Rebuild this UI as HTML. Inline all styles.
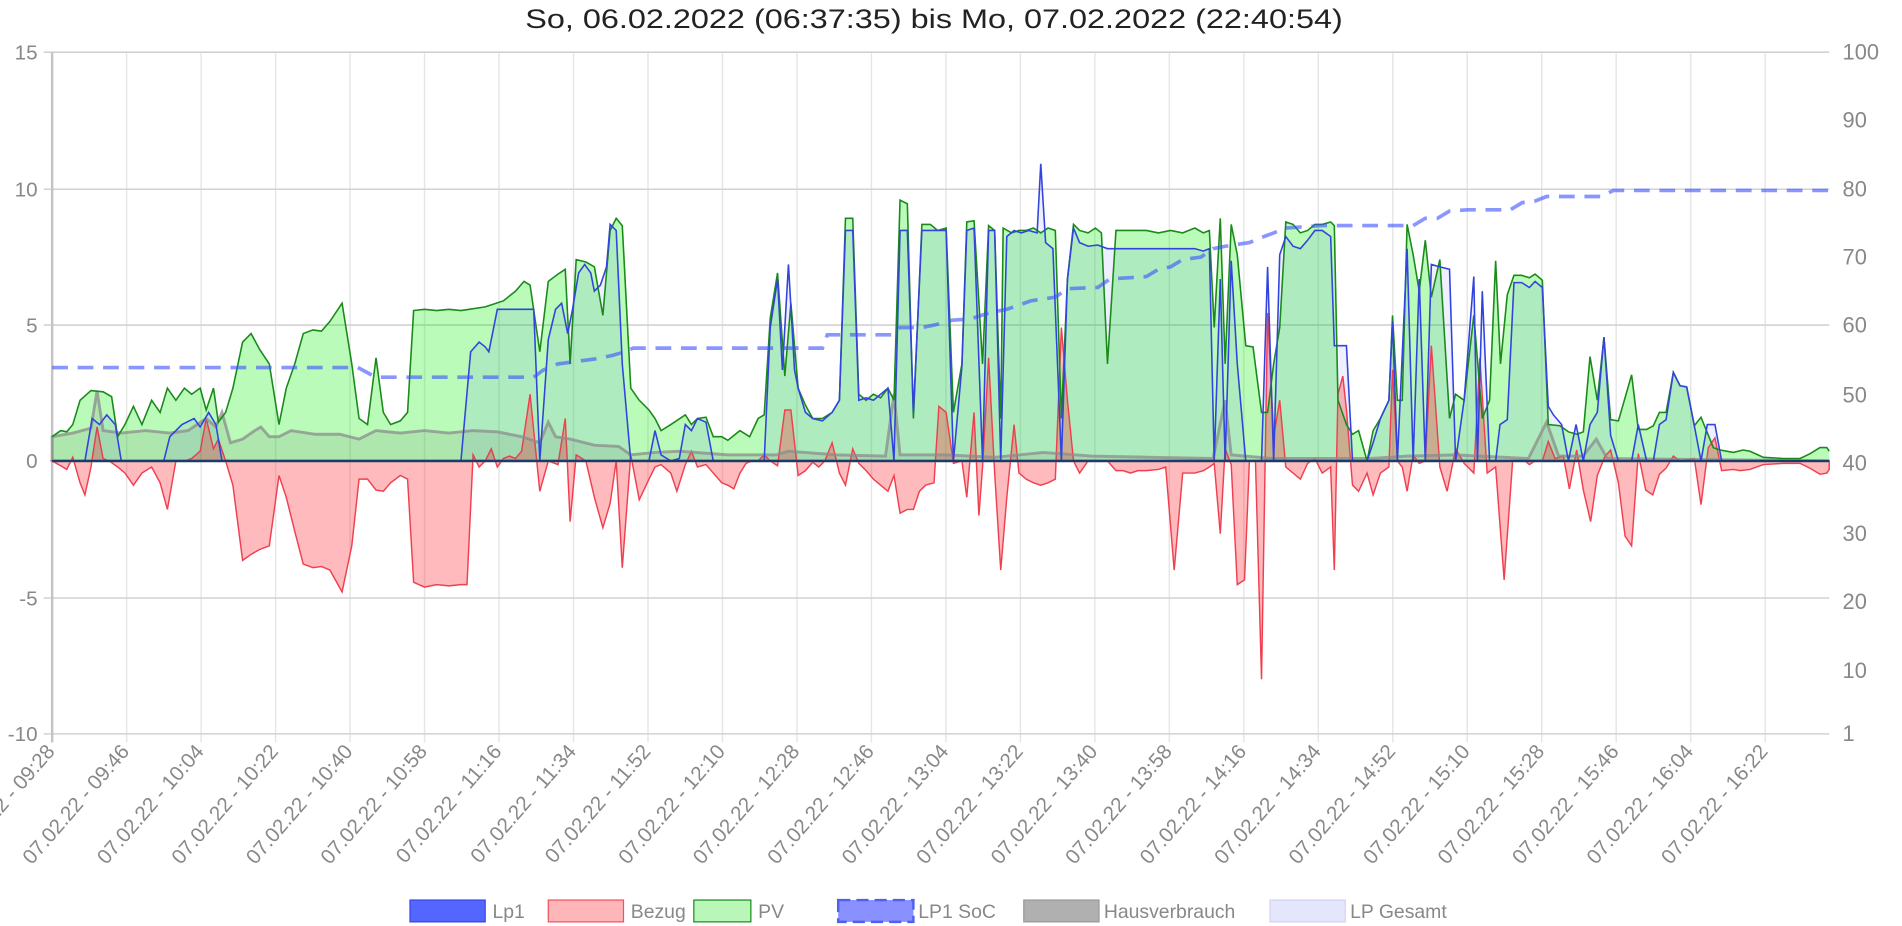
<!DOCTYPE html>
<html><head><meta charset="utf-8"><style>
html,body{margin:0;padding:0;background:#fff;}
svg{display:block;}
text{font-family:"Liberation Sans",Arial,sans-serif;}
</style></head><body>
<svg width="1902" height="926" viewBox="0 0 1568 763.4" preserveAspectRatio="none" xmlns="http://www.w3.org/2000/svg">
<text x="433" y="23" font-size="22" fill="#222" textLength="674" lengthAdjust="spacingAndGlyphs">So, 06.02.2022 (06:37:35) bis Mo, 07.02.2022 (22:40:54)</text>
<g stroke="#e6e6e6" stroke-width="1.2">
<line x1="104.4" y1="43" x2="104.4" y2="612"/><line x1="165.8" y1="43" x2="165.8" y2="612"/><line x1="227.2" y1="43" x2="227.2" y2="612"/><line x1="288.6" y1="43" x2="288.6" y2="612"/><line x1="350" y1="43" x2="350" y2="612"/><line x1="411.4" y1="43" x2="411.4" y2="612"/><line x1="472.8" y1="43" x2="472.8" y2="612"/><line x1="534.2" y1="43" x2="534.2" y2="612"/><line x1="595.6" y1="43" x2="595.6" y2="612"/><line x1="657" y1="43" x2="657" y2="612"/><line x1="718.4" y1="43" x2="718.4" y2="612"/><line x1="779.8" y1="43" x2="779.8" y2="612"/><line x1="841.2" y1="43" x2="841.2" y2="612"/><line x1="902.6" y1="43" x2="902.6" y2="612"/><line x1="964" y1="43" x2="964" y2="612"/><line x1="1025.4" y1="43" x2="1025.4" y2="612"/><line x1="1086.8" y1="43" x2="1086.8" y2="612"/><line x1="1148.2" y1="43" x2="1148.2" y2="612"/><line x1="1209.6" y1="43" x2="1209.6" y2="612"/><line x1="1271" y1="43" x2="1271" y2="612"/><line x1="1332.4" y1="43" x2="1332.4" y2="612"/><line x1="1393.8" y1="43" x2="1393.8" y2="612"/><line x1="1455.2" y1="43" x2="1455.2" y2="612"/>
</g>
<g stroke="#d2d2d2" stroke-width="1.3">
<line x1="36" y1="43" x2="1508" y2="43"/><line x1="36" y1="156" x2="1508" y2="156"/><line x1="36" y1="268" x2="1508" y2="268"/><line x1="36" y1="493" x2="1508" y2="493"/><line x1="36" y1="605" x2="1508" y2="605"/>
</g>
<line x1="43" y1="43" x2="43" y2="612" stroke="#c4c4c4" stroke-width="2"/>
<g font-size="17" fill="#888" text-anchor="end">
<text x="31" y="49">15</text><text x="31" y="162">10</text><text x="31" y="274">5</text><text x="31" y="386">0</text><text x="31" y="499">-5</text><text x="31" y="611">-10</text>
</g>
<g font-size="18" fill="#888">
<text x="1519" y="49">100</text><text x="1519" y="105">90</text><text x="1519" y="162">80</text><text x="1519" y="218">70</text><text x="1519" y="274">60</text><text x="1519" y="332">50</text><text x="1519" y="388">40</text><text x="1519" y="446">30</text><text x="1519" y="502">20</text><text x="1519" y="559">10</text><text x="1519" y="611">1</text>
</g>
<polygon fill="rgba(0,240,0,0.27)" stroke="none" points="43,380 43,360 50,355 55,356 60,350 66,330 75,322 85,323 92,327 97,360 103,350 110,335 117,350 125,330 132,340 138,320 145,330 152,320 158,325 165,320 170,338 176,320 180,348 186,340 192,320 200,282 207,275 214,288 222,300 230,350 236,320 243,300 250,275 258,272 265,273 272,265 282,250 290,300 296,345 303,350 310,295 316,340 322,350 330,347 336,340 341,256 350,255 360,256 370,255 380,256 400,253 415,248 425,240 432,232 437,235 445,290 452,232 460,226 466,222 470,300 475,214 483,216 490,220 497,260 503,190 508,180 513,186 520,320 527,330 535,338 540,345 545,355 553,350 565,342 570,350 575,345 582,344 588,360 595,360 600,363 610,355 618,360 625,345 630,342 635,262 641,225 647,310 652,250 658,320 664,334 670,345 678,345 686,340 692,330 697,180 703,180 708,325 714,330 720,325 726,328 732,320 737,330 742,165 748,168 753,345 760,185 767,185 773,190 780,188 786,340 793,300 797,183 803,182 810,300 815,186 820,190 825,345 827,188 834,192 840,190 846,190 852,188 858,192 864,188 870,190 875,345 880,230 885,185 890,190 897,192 903,188 908,192 913,300 920,190 926,190 932,190 938,190 945,190 955,192 965,190 975,192 985,188 992,192 997,190 1001,270 1006,180 1010,300 1015,185 1020,210 1027,285 1033,286 1040,340 1045,340 1050,300 1055,270 1060,183 1066,185 1072,192 1078,190 1084,185 1090,185 1097,183 1100,186 1103,330 1110,350 1115,358 1120,355 1127,380 1132,355 1138,345 1145,330 1148,260 1152,330 1156,330 1160,185 1165,210 1170,240 1175,198 1180,245 1187,214 1195,345 1200,325 1207,330 1215,260 1222,345 1228,330 1233,215 1237,300 1242.6,243 1248.1,227 1254.5,227 1260.8,229 1265.5,226 1271.5,231 1276.4,350 1286,351 1293,356 1300,358 1305.3,356 1310.8,294 1316.8,330 1322.3,278 1327.8,346 1334.2,347 1345.1,309 1350.6,354 1357.5,354 1363,351 1368,340 1373.5,340 1379.5,307 1385,318 1390.5,319 1396.8,351 1402.3,344 1412.5,369 1418,371 1429,373 1437,371 1442.7,372 1453.7,377 1470,378 1484,378 1492.2,374 1500.4,369 1506,369 1508,372 1508,380"/>
<polygon fill="rgba(40,60,255,0.08)" stroke="none" points="43,380 70,380 76,345 82,350 88,342 95,350 100,380 135,380 140,360 150,350 160,345 165,352 172,340 178,350 183,380 380,380 388,290 395,282 400,286 403,290 410,255 440,255 445,380 452,280 458,255 463,250 468,275 472,255 477,225 482,218 487,225 490,240 495,235 500,220 503,185 508,190 513,300 520,380 535,380 540,355 545,375 553,380 560,378 565,350 570,355 575,345 582,348 588,380 630,380 635,270 641,230 645,305 650,218 655,305 658,320 664,340 670,345 678,347 686,340 692,330 697,190 703,190 708,330 714,328 720,330 726,325 732,320 737,380 742,190 748,190 753,340 760,190 767,190 773,190 780,190 786,380 793,302 797,190 803,188 810,380 815,190 820,190 825,380 830,195 836,190 842,192 848,190 855,192 858,135 862,200 868,205 875,380 880,230 885,188 890,200 897,203 905,202 913,205 925,205 935,205 945,205 955,205 965,205 975,205 985,205 992,207 997,205 1001,380 1006,230 1010,380 1015,215 1020,300 1027,380 1040,380 1045,220 1050,380 1055,210 1060,195 1066,203 1072,205 1078,198 1084,190 1090,190 1097,195 1100,285 1110,285 1115,380 1127,380 1132,365 1138,345 1145,330 1148,265 1152,380 1160,205 1165,380 1170,230 1175,380 1180,218 1187,220 1195,222 1200,380 1207,330 1215,228 1218,380 1222,240 1228,380 1233,380 1236.6,350 1242.6,346 1248.1,233 1254.5,233 1260.8,237 1265.5,232 1271.5,237 1276.4,335 1280.6,342 1287.4,350 1293,380 1299.3,350 1305.3,380 1310.8,350 1316.8,340 1322.3,278 1327.8,359 1334.2,380 1345.1,380 1350.6,350 1357.5,380 1363,380 1368,350 1373.5,346 1379.5,307 1385,318 1390.5,319 1396.8,351 1402.3,380 1407.5,350 1413.8,350 1419.3,380 1508,380"/>
<polygon fill="rgba(255,40,50,0.32)" stroke="#f04050" stroke-width="1.2" points="43,380 50,384 55,387 60,377 66,398 70,408 75,385 80,352 85,378 90,380 97,385 103,390 110,400 117,390 125,385 132,398 138,420 145,380 152,380 158,378 165,372 170,345 176,370 180,362 186,380 192,400 200,462 207,457 214,453 222,450 230,392 236,410 243,438 250,465 258,468 265,467 272,470 282,488 290,450 296,395 303,395 310,404 316,405 322,398 330,392 336,395 341,480 350,484 360,482 370,483 380,482 385,482 390,375 395,385 400,380 405,370 410,385 415,378 420,376 425,378 430,372 437,325 445,405 452,380 460,383 466,345 470,430 475,375 483,380 490,410 497,435 503,415 508,380 513,468 520,375 527,412 535,395 540,385 545,383 553,390 558,405 565,383 570,372 575,385 582,383 588,390 595,398 600,400 605,403 610,390 615,382 620,380 625,380 630,375 635,380 641,384 647,338 652,338 658,392 664,388 670,381 675,385 680,380 686,365 692,390 697,400 703,370 708,382 714,388 720,395 726,400 732,405 737,392 742,423 748,420 753,420 758,405 763,400 770,398 774,335 780,340 786,382 793,380 797,410 803,340 807,425 810,385 815,295 820,390 825,470 830,410 836,350 840,390 846,395 852,398 858,400 864,398 870,395 875,270 880,330 885,380 890,390 897,380 903,380 908,380 913,380 920,388 926,388 932,390 938,388 945,388 955,387 961,385 968,470 975,390 985,390 992,388 997,385 1001,382 1006,440 1010,370 1015,383 1020,482 1026,478 1030,380 1035,380 1040,560 1045,258 1050,360 1055,330 1060,385 1066,390 1072,395 1078,382 1084,378 1090,390 1097,385 1100,470 1103,325 1107,310 1110,338 1115,400 1120,405 1127,390 1132,408 1138,390 1145,385 1148,305 1152,380 1156,385 1160,405 1165,375 1170,382 1175,380 1180,285 1187,385 1193,405 1200,370 1207,382 1215,390 1220,295 1226,390 1233,385 1240,478 1247,380 1257.2,380 1260.8,383 1265.5,380 1271.5,380 1276.4,364 1282,378 1288.8,376 1293.8,403 1299.8,371 1305.3,404 1311.3,430 1316.8,392 1323.2,376 1327.8,371 1334.2,398 1339.7,442 1345.1,450 1350.6,374 1356.7,404 1362.5,408 1368,391 1373.5,386 1379.5,376 1385,380 1396.8,378 1402.3,416 1408.3,369 1413.8,361 1419.3,388 1429,387 1434.5,388 1442.7,387 1453.7,383 1470,382 1484,382 1492.2,386 1500.4,391 1506,390 1508,387 1508,380"/>
<polygon fill="rgba(90,90,90,0.12)" stroke="rgba(140,140,140,0.75)" stroke-width="2.4" points="43,380 43,360 60,357 75,353 80,322 85,355 100,357 120,355 140,357 155,355 170,345 178,352 183,340 190,365 200,362 210,355 215,352 222,360 230,360 240,355 260,358 280,358 296,362 310,355 330,357 350,355 370,357 390,355 410,356 430,360 445,365 452,348 458,360 470,362 490,367 510,368 520,375 540,373 560,372 600,375 640,375 650,372 690,375 730,376 737,325 742,375 780,375 820,377 860,373 900,376 950,377 1000,378 1010,330 1015,375 1050,378 1100,378 1130,378 1160,376 1200,375 1260,378 1275,348 1285,376 1305,376 1316,362 1325,378 1508,380 1508,380"/>
<polyline fill="none" stroke="#1a8a1a" stroke-width="1.3" points="43,360 50,355 55,356 60,350 66,330 75,322 85,323 92,327 97,360 103,350 110,335 117,350 125,330 132,340 138,320 145,330 152,320 158,325 165,320 170,338 176,320 180,348 186,340 192,320 200,282 207,275 214,288 222,300 230,350 236,320 243,300 250,275 258,272 265,273 272,265 282,250 290,300 296,345 303,350 310,295 316,340 322,350 330,347 336,340 341,256 350,255 360,256 370,255 380,256 400,253 415,248 425,240 432,232 437,235 445,290 452,232 460,226 466,222 470,300 475,214 483,216 490,220 497,260 503,190 508,180 513,186 520,320 527,330 535,338 540,345 545,355 553,350 565,342 570,350 575,345 582,344 588,360 595,360 600,363 610,355 618,360 625,345 630,342 635,262 641,225 647,310 652,250 658,320 664,334 670,345 678,345 686,340 692,330 697,180 703,180 708,325 714,330 720,325 726,328 732,320 737,330 742,165 748,168 753,345 760,185 767,185 773,190 780,188 786,340 793,300 797,183 803,182 810,300 815,186 820,190 825,345 827,188 834,192 840,190 846,190 852,188 858,192 864,188 870,190 875,345 880,230 885,185 890,190 897,192 903,188 908,192 913,300 920,190 926,190 932,190 938,190 945,190 955,192 965,190 975,192 985,188 992,192 997,190 1001,270 1006,180 1010,300 1015,185 1020,210 1027,285 1033,286 1040,340 1045,340 1050,300 1055,270 1060,183 1066,185 1072,192 1078,190 1084,185 1090,185 1097,183 1100,186 1103,330 1110,350 1115,358 1120,355 1127,380 1132,355 1138,345 1145,330 1148,260 1152,330 1156,330 1160,185 1165,210 1170,240 1175,198 1180,245 1187,214 1195,345 1200,325 1207,330 1215,260 1222,345 1228,330 1233,215 1237,300 1242.6,243 1248.1,227 1254.5,227 1260.8,229 1265.5,226 1271.5,231 1276.4,350 1286,351 1293,356 1300,358 1305.3,356 1310.8,294 1316.8,330 1322.3,278 1327.8,346 1334.2,347 1345.1,309 1350.6,354 1357.5,354 1363,351 1368,340 1373.5,340 1379.5,307 1385,318 1390.5,319 1396.8,351 1402.3,344 1412.5,369 1418,371 1429,373 1437,371 1442.7,372 1453.7,377 1470,378 1484,378 1492.2,374 1500.4,369 1506,369 1508,372"/>
<polyline fill="none" stroke="#3344dd" stroke-width="1.3" points="43,380 70,380 76,345 82,350 88,342 95,350 100,380 135,380 140,360 150,350 160,345 165,352 172,340 178,350 183,380 380,380 388,290 395,282 400,286 403,290 410,255 440,255 445,380 452,280 458,255 463,250 468,275 472,255 477,225 482,218 487,225 490,240 495,235 500,220 503,185 508,190 513,300 520,380 535,380 540,355 545,375 553,380 560,378 565,350 570,355 575,345 582,348 588,380 630,380 635,270 641,230 645,305 650,218 655,305 658,320 664,340 670,345 678,347 686,340 692,330 697,190 703,190 708,330 714,328 720,330 726,325 732,320 737,380 742,190 748,190 753,340 760,190 767,190 773,190 780,190 786,380 793,302 797,190 803,188 810,380 815,190 820,190 825,380 830,195 836,190 842,192 848,190 855,192 858,135 862,200 868,205 875,380 880,230 885,188 890,200 897,203 905,202 913,205 925,205 935,205 945,205 955,205 965,205 975,205 985,205 992,207 997,205 1001,380 1006,230 1010,380 1015,215 1020,300 1027,380 1040,380 1045,220 1050,380 1055,210 1060,195 1066,203 1072,205 1078,198 1084,190 1090,190 1097,195 1100,285 1110,285 1115,380 1127,380 1132,365 1138,345 1145,330 1148,265 1152,380 1160,205 1165,380 1170,230 1175,380 1180,218 1187,220 1195,222 1200,380 1207,330 1215,228 1218,380 1222,240 1228,380 1233,380 1236.6,350 1242.6,346 1248.1,233 1254.5,233 1260.8,237 1265.5,232 1271.5,237 1276.4,335 1280.6,342 1287.4,350 1293,380 1299.3,350 1305.3,380 1310.8,350 1316.8,340 1322.3,278 1327.8,359 1334.2,380 1345.1,380 1350.6,350 1357.5,380 1363,380 1368,350 1373.5,346 1379.5,307 1385,318 1390.5,319 1396.8,351 1402.3,380 1407.5,350 1413.8,350 1419.3,380 1508,380"/>
<line x1="43" y1="380" x2="1508" y2="380" stroke="#1c3a6a" stroke-width="2"/>
<polyline fill="none" stroke="rgba(60,80,255,0.6)" stroke-width="3" stroke-dasharray="13,8" points="43,303 295,303 310,311 440,311 448,305 460,300 490,296 505,293 515,290 522,287 630,287 640,287 678,287 682,276 735,276 742,270 760,270 770,268 785,264 800,263 815,258 830,255 850,248 870,245 880,238 905,237 915,230 945,228 955,222 965,220 975,214 990,212 1000,205 1010,203 1030,200 1042,195 1050,192 1060,188 1075,187 1090,186 1165,186 1175,180 1185,180 1195,174 1210,173 1245,173 1255,167 1265,166 1275,162 1320,162 1330,157 1508,157"/>
<g font-size="17" fill="#888" text-anchor="end">
<text transform="translate(46,620) rotate(-49)">07.02.22 - 09:28</text>
<text transform="translate(107.4,620) rotate(-49)">07.02.22 - 09:46</text>
<text transform="translate(168.8,620) rotate(-49)">07.02.22 - 10:04</text>
<text transform="translate(230.2,620) rotate(-49)">07.02.22 - 10:22</text>
<text transform="translate(291.6,620) rotate(-49)">07.02.22 - 10:40</text>
<text transform="translate(353,620) rotate(-49)">07.02.22 - 10:58</text>
<text transform="translate(414.4,620) rotate(-49)">07.02.22 - 11:16</text>
<text transform="translate(475.8,620) rotate(-49)">07.02.22 - 11:34</text>
<text transform="translate(537.2,620) rotate(-49)">07.02.22 - 11:52</text>
<text transform="translate(598.6,620) rotate(-49)">07.02.22 - 12:10</text>
<text transform="translate(660,620) rotate(-49)">07.02.22 - 12:28</text>
<text transform="translate(721.4,620) rotate(-49)">07.02.22 - 12:46</text>
<text transform="translate(782.8,620) rotate(-49)">07.02.22 - 13:04</text>
<text transform="translate(844.2,620) rotate(-49)">07.02.22 - 13:22</text>
<text transform="translate(905.6,620) rotate(-49)">07.02.22 - 13:40</text>
<text transform="translate(967,620) rotate(-49)">07.02.22 - 13:58</text>
<text transform="translate(1028.4,620) rotate(-49)">07.02.22 - 14:16</text>
<text transform="translate(1089.8,620) rotate(-49)">07.02.22 - 14:34</text>
<text transform="translate(1151.2,620) rotate(-49)">07.02.22 - 14:52</text>
<text transform="translate(1212.6,620) rotate(-49)">07.02.22 - 15:10</text>
<text transform="translate(1274,620) rotate(-49)">07.02.22 - 15:28</text>
<text transform="translate(1335.4,620) rotate(-49)">07.02.22 - 15:46</text>
<text transform="translate(1396.8,620) rotate(-49)">07.02.22 - 16:04</text>
<text transform="translate(1458.2,620) rotate(-49)">07.02.22 - 16:22</text>
</g>
<g font-size="16" fill="#888">
<rect x="338" y="742" width="62" height="18" fill="#5566ff" stroke="#3344ee" stroke-width="1"/><text x="406" y="757">Lp1</text>
<rect x="452" y="742" width="62" height="18" fill="#ffb6b9" stroke="#f05060" stroke-width="1"/><text x="520" y="757">Bezug</text>
<rect x="572" y="742" width="47" height="18" fill="#b9f7b9" stroke="#1a8a1a" stroke-width="1"/><text x="625" y="757">PV</text>
<rect x="691" y="742" width="62" height="18" fill="#8891ff" stroke="#5060ee" stroke-width="2" stroke-dasharray="10,5"/><text x="757" y="757">LP1 SoC</text>
<rect x="844" y="742" width="62" height="18" fill="#b0b0b0" stroke="#999" stroke-width="1"/><text x="910" y="757">Hausverbrauch</text>
<rect x="1047" y="742" width="62" height="18" fill="#e4e6fb" stroke="#d0d4f4" stroke-width="1"/><text x="1113" y="757">LP Gesamt</text>
</g>
</svg>
</body></html>
